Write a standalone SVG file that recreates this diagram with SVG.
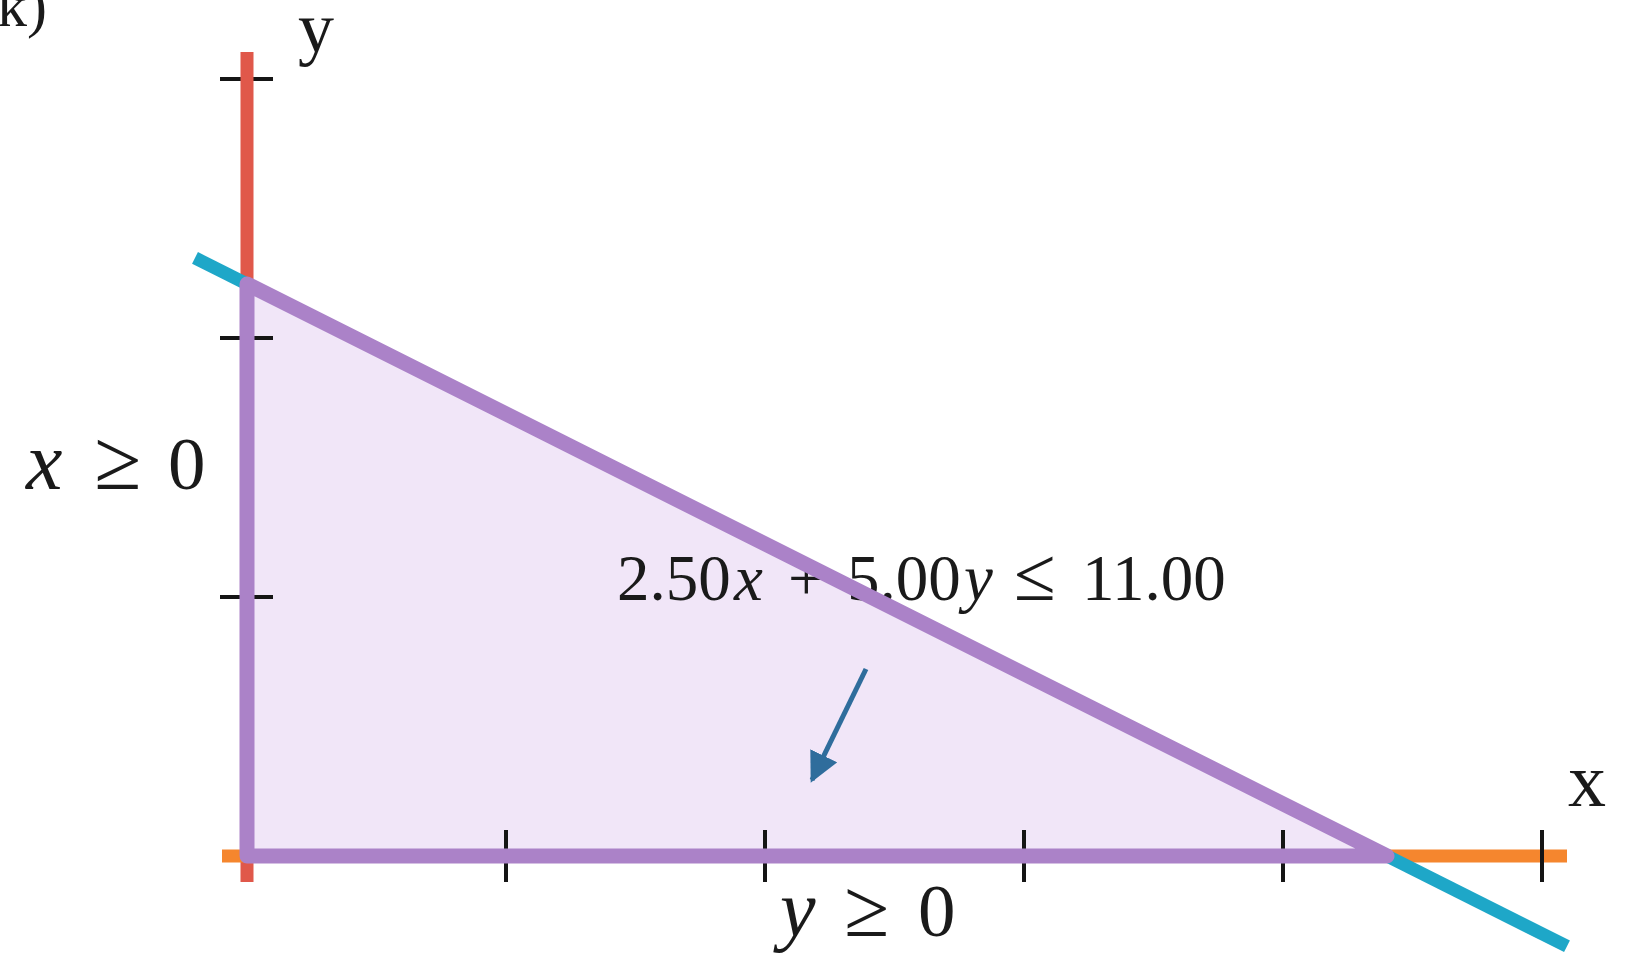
<svg xmlns="http://www.w3.org/2000/svg" width="1646" height="955" viewBox="0 0 1646 955">
  <style>
    .tick { stroke: #151515; stroke-width: 4; }
    .lbl { font-family: "Liberation Serif", "DejaVu Serif", serif; fill: #1a1a1a; }
    .it { font-style: italic; }
    .rel { font-size: 86px; }
  </style>
  <defs>
    <marker id="ah" viewBox="0 0 10 10" refX="9" refY="5" markerWidth="6" markerHeight="6" orient="auto" markerUnits="strokeWidth">
      <path d="M0,0 L10,5 L0,10 z" fill="#2f6d9c"/>
    </marker>
  </defs>
  <rect width="1646" height="955" fill="#ffffff"/>

  <g id="feasible-fill">
    <polygon points="247,284 1387,856 247,856" fill="#f1e6f8"/>
  </g>

  <g id="y-ticks">
    <line class="tick" x1="220" y1="79" x2="273" y2="79"/>
    <line class="tick" x1="220" y1="338" x2="273" y2="338"/>
    <line class="tick" x1="220" y1="597" x2="273" y2="597"/>
  </g>

  <g id="axis-x-ge-0">
    <line x1="247" y1="52" x2="247" y2="882" stroke="#e0584a" stroke-width="13"/>
  </g>
  <g id="axis-y-ge-0">
    <line x1="222" y1="856" x2="1567" y2="856" stroke="#f5862e" stroke-width="13"/>
  </g>

  <g id="x-ticks">
    <line class="tick" x1="506" y1="830" x2="506" y2="882"/>
    <line class="tick" x1="765" y1="830" x2="765" y2="882"/>
    <line class="tick" x1="1024" y1="830" x2="1024" y2="882"/>
    <line class="tick" x1="1283" y1="830" x2="1283" y2="882"/>
    <line class="tick" x1="1542" y1="830" x2="1542" y2="882"/>
  </g>

  <g id="constraint-line">
    <line x1="195" y1="257.9" x2="1567" y2="946.3" stroke="#1ea7c8" stroke-width="13"/>
  </g>

  <g id="constraint-label">
    <text class="lbl" y="600" font-size="65">
      <tspan x="617">2.50</tspan><tspan x="734" class="it">x</tspan><tspan x="788">+</tspan><tspan x="847">5.00</tspan><tspan x="964" class="it">y</tspan><tspan x="1014" font-size="76">≤</tspan><tspan x="1082">11.00</tspan>
    </text>
  </g>

  <g id="connectors">
    <line x1="866" y1="669" x2="812" y2="780" stroke="#2f6d9c" stroke-width="5" marker-end="url(#ah)"/>
  </g>

  <g id="feasible-outline">
    <polygon points="247,284 1387,856 247,856" fill="none" stroke="#ab82c8" stroke-width="15" stroke-linejoin="round"/>
  </g>

  <g id="labels">
    <text class="lbl" x="-23" y="26" font-size="60">(k)</text>
    <text class="lbl" x="298" y="52" font-size="72">y</text>
    <text class="lbl" x="1568" y="806" font-size="76">x</text>
    <text class="lbl" y="489" font-size="75"><tspan x="26" class="it" font-size="82">x</tspan><tspan x="94" class="rel">≥</tspan><tspan x="168">0</tspan></text>
    <text class="lbl" y="936" font-size="75"><tspan x="780" class="it" font-size="80">y</tspan><tspan x="844" font-size="82">≥</tspan><tspan x="918">0</tspan></text>
  </g>
</svg>
